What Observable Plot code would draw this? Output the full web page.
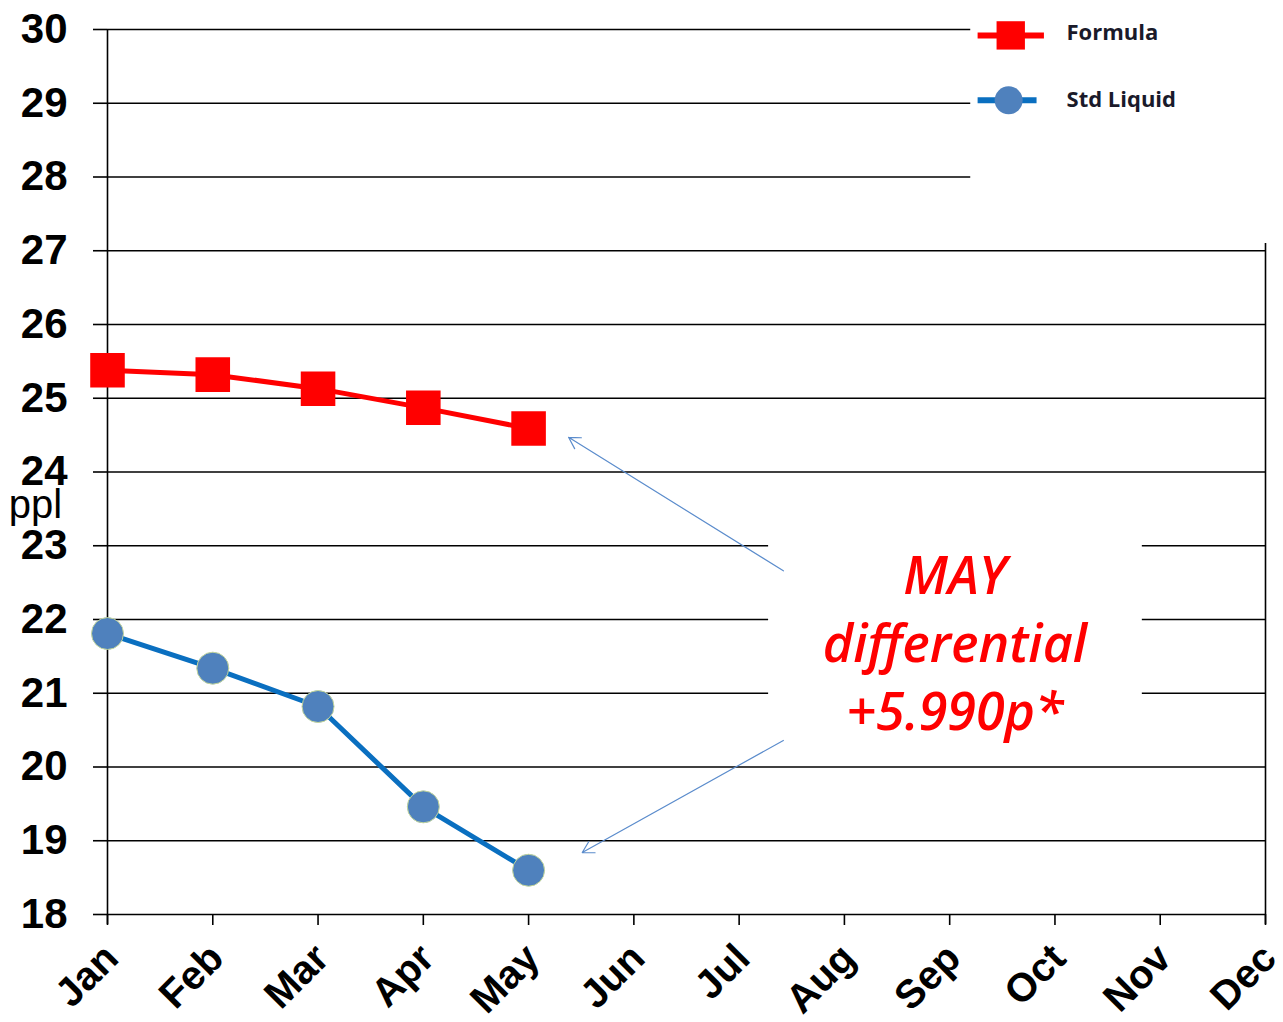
<!DOCTYPE html>
<html>
<head>
<meta charset="utf-8">
<script src="https://cdn.jsdelivr.net/npm/d3@7"></script>
<script src="https://cdn.jsdelivr.net/npm/@observablehq/plot@0.6"></script>
<style>
  html, body { margin: 0; padding: 0; background: #fff; }
  #chart svg { display: block; }
</style>
</head>
<body>
<div id="chart"></div>
<script>
// ---- data ----
const months = ["Jan","Feb","Mar","Apr","May","Jun","Jul","Aug","Sep","Oct","Nov","Dec"];
const formula = [25.38, 25.32, 25.13, 24.87, 24.59];
const stdLiquid = [21.81, 21.34, 20.82, 19.46, 18.60];
const yTicks = [18,19,20,21,22,23,24,25,26,27,28,29,30];
const seriesNames = ["Formula", "Std Liquid"];
const annotationLines = ["MAY", "differential", "+5.990p*"];
const yLabel = "ppl";

const formulaData = formula.map((v, i) => ({ m: i, v }));
const liquidData = stdLiquid.map((v, i) => ({ m: i, v }));

// gridline segments (month-index units), legend/annotation box gaps
const grid = [];
for (const t of yTicks) {
  if (t >= 28) grid.push({ t, a: 0, b: 8.2 });
  else if (t >= 21 && t <= 23) { grid.push({ t, a: 0, b: 6.28 }); grid.push({ t, a: 9.83, b: 11 }); }
  else grid.push({ t, a: 0, b: 11 });
}

const RED = "#ff0000", BLUE = "#0a6fc0", DOT = "#4f81bd", ARROW = "#5b8ccc";
const FONT = "'Liberation Sans', Arial, sans-serif";

const plot = Plot.plot({
  width: 1283,
  height: 1022,
  marginLeft: 107,
  marginRight: 18,
  marginTop: 29,
  marginBottom: 108,
  x: { type: "linear", domain: [0, 11] },
  y: { domain: [18, 30] },
  style: { fontFamily: FONT, background: "#fff", overflow: "visible" },
  marks: [
    Plot.ruleY(grid, { y: "t", x1: "a", x2: "b", stroke: "#000", strokeWidth: 1.6 }),
    Plot.ruleX([0], { y1: 30, y2: 18, stroke: "#000", strokeWidth: 1.6, insetBottom: -10 }),
    Plot.ruleX([11], { y1: 27.1, y2: 18, stroke: "#000", strokeWidth: 1.6, insetBottom: -10 }),
    Plot.axisY({ ticks: yTicks, tickSize: 14, tickPadding: 26, tickFormat: d => d, fontSize: 42, fontWeight: "bold", label: null, strokeWidth: 1.6, stroke: "#000", color: "#000" }),
    Plot.axisX({ ticks: d3.range(12), tickFormat: () => "", tickSize: 11, label: null, strokeWidth: 1.6, stroke: "#000" }),
    Plot.axisX({ ticks: d3.range(12), tickFormat: i => months[i], tickRotate: -45, tickSize: 0, tickPadding: 37, dx: 4, fontSize: 40, fontWeight: "bold", label: null, color: "#000" }),
    Plot.text([yLabel], { x: 0, y: 23.55, dx: -72, text: d => d, fontSize: 40, fill: "#000", textAnchor: "middle" }),
    // arrows
    Plot.arrow([{ x1: 6.42, y1: 22.66, x2: 4.38, y2: 24.47 }, { x1: 6.42, y1: 20.36, x2: 4.51, y2: 18.84 }],
      { x1: "x1", y1: "y1", x2: "x2", y2: "y2", stroke: ARROW, strokeWidth: 1.2, headLength: 16, bend: 0 }),
    // series
    Plot.line(formulaData, { x: "m", y: "v", stroke: RED, strokeWidth: 5 }),
    Plot.dot(formulaData, { x: "m", y: "v", symbol: "square", r: 19.5, fill: RED }),
    Plot.line(liquidData, { x: "m", y: "v", stroke: BLUE, strokeWidth: 5 }),
    Plot.dot(liquidData, { x: "m", y: "v", r: 16, fill: DOT, stroke: "#c3d69b", strokeWidth: 1 }),
    // annotation
    Plot.text([annotationLines.join("\n")], { x: 8.05, y: 21.72, text: d => d, fill: RED, fontSize: 52, fontStyle: "italic", fontWeight: 600, fontFamily: "'Open Sans', sans-serif", lineHeight: 1.31, textAnchor: "middle" }),
    // legend
    Plot.ruleY([29.92], { x1: 8.27, x2: 8.9, stroke: RED, strokeWidth: 6 }),
    Plot.dot([0], { x: 8.58, y: 29.92, symbol: "square", r: 16, fill: RED }),
    Plot.ruleY([29.04], { x1: 8.27, x2: 8.83, stroke: BLUE, strokeWidth: 6 }),
    Plot.dot([0], { x: 8.56, y: 29.04, r: 14, fill: DOT }),
    Plot.text(seriesNames, { x: 9.11, y: (d, i) => i === 0 ? 29.95 : 29.05, text: d => d, textAnchor: "start", fontSize: 22, fontWeight: "bold", fontFamily: "'Open Sans', sans-serif", fill: "#1a1a2a" })
  ]
});
document.getElementById("chart").appendChild(plot);
</script>
</body>
</html>
